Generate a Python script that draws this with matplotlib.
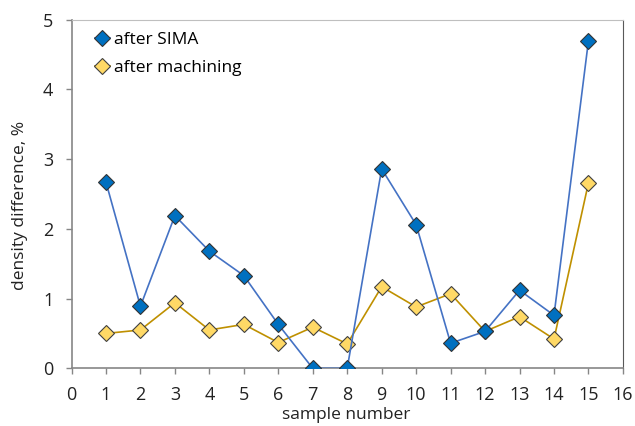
import matplotlib
matplotlib.use("Agg")
import matplotlib.pyplot as plt

plt.rcParams['font.family'] = ['Open Sans', 'DejaVu Sans']

samples = list(range(1, 16))
after_sima = [2.67, 0.89, 2.19, 1.68, 1.33, 0.63, 0.0, 0.0, 2.86, 2.06, 0.36, 0.53, 1.12, 0.76, 4.70]
after_machining = [0.50, 0.55, 0.94, 0.55, 0.63, 0.37, 0.59, 0.35, 1.17, 0.88, 1.07, 0.53, 0.74, 0.42, 2.66]

fig = plt.figure(figsize=(6.35, 4.26), dpi=100)
ax = fig.add_axes([0.1126, 0.1354, 0.8684, 0.8184])

ax.plot(samples, after_sima, color='#4472C4', linewidth=1.2, marker='D', markersize=8.5,
        markerfacecolor='#0070C0', markeredgecolor='#333333', markeredgewidth=0.8,
        label='after SIMA', zorder=3)
ax.plot(samples, after_machining, color='#BF9000', linewidth=1.2, marker='D', markersize=8.5,
        markerfacecolor='#FFD966', markeredgecolor='#404040', markeredgewidth=0.8,
        label='after machining', zorder=2)

ax.set_xlim(0, 16)
ax.set_ylim(0, 5)
ax.set_xticks(range(0, 17))
ax.set_yticks(range(0, 6))
ax.tick_params(direction='out', length=4, width=1, color='#868686', labelsize=13,
               labelcolor='#222222', pad=9)

for side in ['left', 'bottom']:
    ax.spines[side].set_color('#868686')
    ax.spines[side].set_linewidth(1.2)
ax.spines['top'].set_color('#BFBFBF')
ax.spines['right'].set_color('#595959')

ax.set_xlabel('sample number', fontsize=12.5, color='#222222')
ax.set_ylabel('density difference, %', fontsize=12.5, color='#222222')
ax.xaxis.set_label_coords(0.499, -0.112)
ax.yaxis.set_label_coords(-0.079, 0.468)

ax.legend(loc='upper left', frameon=False, fontsize=12.5, handlelength=0.9, handletextpad=0.2,
          labelspacing=0.7, borderaxespad=0.3, bbox_to_anchor=(0.02, 1.0))

fig.savefig('out.png', dpi=100)
